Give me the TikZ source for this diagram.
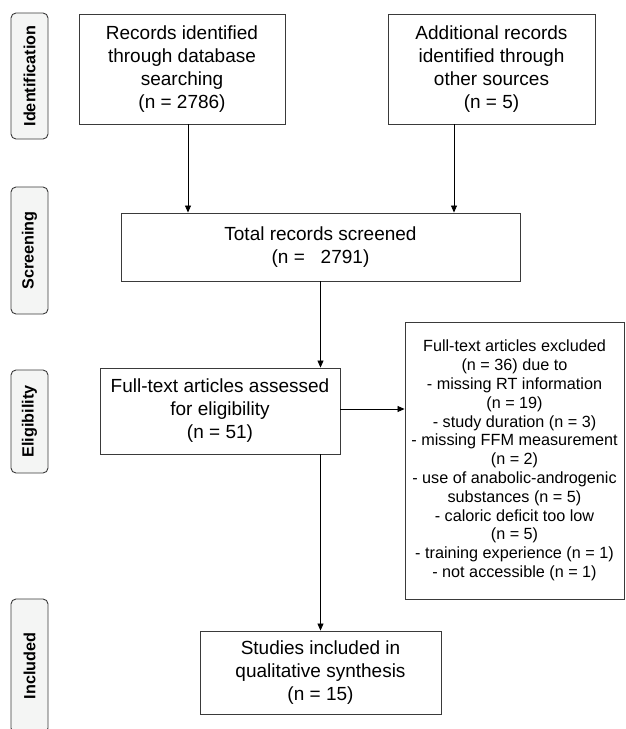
\documentclass[tikz,border=0pt]{standalone}
\usepackage{fontspec}
\setmainfont{Liberation Sans}
\usetikzlibrary{arrows.meta}
\definecolor{edgegrey}{HTML}{3A3A3A}
\definecolor{phasefill}{HTML}{F4F5F4}
\begin{document}
\begin{tikzpicture}[x=1pt, y=-1pt,
    box/.style={draw=edgegrey, line width=0.9pt, align=center, inner sep=0pt,
        font=\fontsize{19}{23}\selectfont},
    phase/.style={draw=edgegrey, fill=phasefill, rounded corners=5pt, line width=0.9pt,
        rotate=90, minimum height=37pt, inner sep=0pt,
        font=\bfseries\fontsize{16.2}{18}\selectfont},
    arr/.style={-{Triangle[length=7pt, width=6pt]}, line width=0.8pt}]

    \useasboundingbox (0,0) rectangle (626,729);
    \clip (0,0) rectangle (626,729);

    % phase labels
    \node[phase, minimum width=126pt] (ident) at (29.5, 76) {Identification};
    \node[phase, minimum width=127pt] (scr) at (29.5, 250.5) {Screening};
    \node[phase, minimum width=103pt] (elig) at (29.5, 421.5) {Eligibility};
    \node[phase, minimum width=134pt] (incl) at (29.5, 666) {Included};

    % boxes
    \node[box, minimum width=206pt, minimum height=110pt] (db) at (182, 69)
        {Records identified\\through database\\searching\\(n = 2786)};
    \node[box, minimum width=207pt, minimum height=110pt] (other) at (491.5, 69)
        {Additional records\\identified through\\other sources\\(n = 5)};
    \node[box, minimum width=399pt, minimum height=68pt] (screen) at (320.5, 247)
        {Total records screened\\(n = \ \ 2791)};
    \node[box, minimum width=240pt, minimum height=86pt] (assessed) at (220, 411)
        {Full-text articles assessed\\for eligibility\\(n = 51)};
    \node[box, minimum width=219pt, minimum height=277pt, font=\fontsize{16.2}{18.8}\selectfont]
        (excluded) at (514.5, 460.5)
        {Full-text articles excluded\\(n = 36) due to\\- missing RT information\\(n = 19)\\
         - study duration (n = 3)\\- missing FFM measurement\\(n = 2)\\
         - use of anabolic-androgenic\\substances (n = 5)\\- caloric deficit too low\\(n = 5)\\
         - training experience (n = 1)\\- not accessible (n = 1)};
    \node[box, minimum width=241pt, minimum height=83pt] (studies) at (320.5, 672.5)
        {Studies included in\\qualitative synthesis\\(n = 15)};

    % connectors
    \draw[arr] ([xshift=6pt]db.south) -- ([xshift=6pt]db.south |- screen.north);
    \draw[arr] ([xshift=-37.5pt]other.south) -- ([xshift=-37.5pt]other.south |- screen.north);
    \draw[arr] (screen.south) -- (screen.south |- assessed.north);
    \draw[arr] ([yshift=2pt]assessed.east) -- ([yshift=2pt]assessed.east -| excluded.west);
    \draw[arr] (studies.north |- assessed.south) -- (studies.north);
\end{tikzpicture}
\end{document}
